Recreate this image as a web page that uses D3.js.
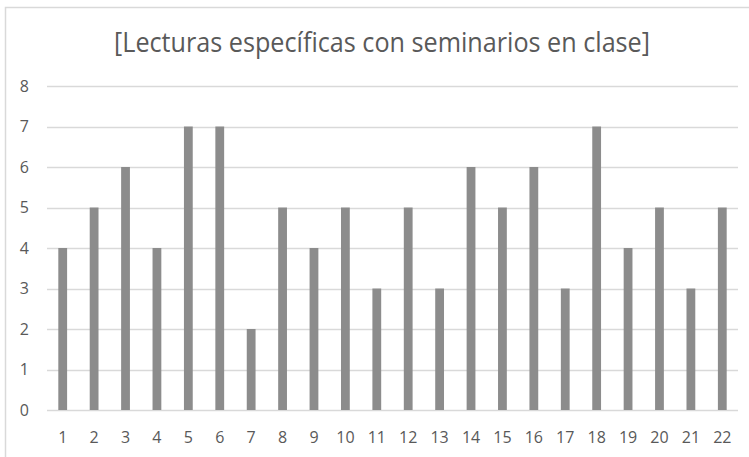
<!DOCTYPE html>
<html>
<head>
<meta charset="utf-8">
<script src="https://cdn.jsdelivr.net/npm/d3@7"></script>
<style>
  html, body { margin: 0; padding: 0; background: #fff; }
  svg { display: block; font-family: "Open Sans", "Liberation Sans", sans-serif; }
  .tick text { font-size: 16px; fill: #595959; font-family: "Open Sans", "Liberation Sans", sans-serif; }
</style>
</head>
<body>
<svg id="chart" width="749" height="457"></svg>
<script>
const title = "[Lecturas específicas con seminarios en clase]";
const categories = ["1","2","3","4","5","6","7","8","9","10","11","12","13","14","15","16","17","18","19","20","21","22"];
const values = [4,5,6,4,7,7,2,5,4,5,3,5,3,6,5,6,3,7,4,5,3,5];
const yTicks = [0,1,2,3,4,5,6,7,8];

const svg = d3.select("#chart");
const W = 749, H = 457;
const plot = { left: 47, right: 738, top: 86, bottom: 410 };

// chart frame (top and left edges visible)
svg.append("path")
  .attr("d", `M5.5,${H} L5.5,7.5 L${W},7.5`)
  .attr("fill", "none")
  .attr("stroke", "#d9d9d9")
  .attr("stroke-width", 1.5);

const x = d3.scaleBand().domain(categories).range([plot.left, plot.right]).paddingInner(0.72).paddingOuter(0.36);
const y = d3.scaleLinear().domain([0, 8]).range([plot.bottom, plot.top]);

// gridlines
svg.append("g").selectAll("line").data(yTicks).join("line")
  .attr("x1", plot.left).attr("x2", plot.right)
  .attr("y1", d => Math.round(y(d)) + 0.5).attr("y2", d => Math.round(y(d)) + 0.5)
  .attr("stroke", "#d9d9d9").attr("stroke-width", 1.5);

// bars
svg.append("g").selectAll("rect").data(values).join("rect")
  .attr("x", (d, i) => x(categories[i]))
  .attr("width", x.bandwidth())
  .attr("y", d => y(d))
  .attr("height", d => y(0) - y(d))
  .attr("fill", "#8c8c8c");

// y axis labels
const yAxis = d3.axisLeft(y).tickValues(yTicks).tickSize(0).tickPadding(0);
const gy = svg.append("g").attr("transform", `translate(29,0)`).call(yAxis);
gy.select(".domain").remove();

// x axis labels
const xAxis = d3.axisBottom(x).tickSize(0).tickPadding(0);
const gx = svg.append("g").attr("transform", `translate(0,432)`).call(xAxis);
gx.select(".domain").remove();

// title
svg.append("text")
  .attr("x", 382).attr("y", 52)
  .attr("text-anchor", "middle")
  .attr("fill", "#595959")
  .style("font-size", "27px")
  .attr("textLength", 536)
  .attr("lengthAdjust", "spacingAndGlyphs")
  .text(title);
</script>
</body>
</html>
